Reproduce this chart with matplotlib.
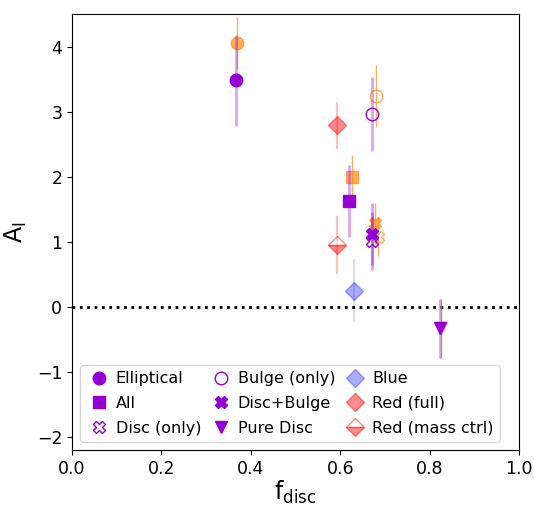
import numpy as np
import matplotlib
matplotlib.use('Agg')
import matplotlib.pyplot as plt

# muestras morfologicas: (nombre, marcador, relleno)
nombres = ['Elliptical', 'All', 'Disc (only)', 'Bulge (only)', 'Disc+Bulge', 'Pure Disc']
marcadores = ['o', 's', 'X', 'o', 'X', 'v']
rellenos = [True, True, False, False, True, True]

# serie morada
fdisc_a = [0.367, 0.620, 0.671, 0.671, 0.672, 0.823]
A_a = [3.48, 1.63, 1.01, 2.97, 1.12, -0.33]
err_a = [0.70, 0.55, 0.45, 0.57, 0.48, 0.45]

# serie naranja
fdisc_b = [0.369, 0.626, 0.685, 0.680, 0.678, 0.825]
A_b = [4.05, 1.99, 1.08, 3.24, 1.29, -0.33]
err_b = [0.40, 0.35, 0.30, 0.48, 0.30, 0.45]

# muestras de color
col_nombres = ['Blue', 'Red (full)', 'Red (mass ctrl)']
col_fdisc = [0.630, 0.592, 0.592]
col_A = [0.25, 2.79, 0.95]
col_err = [0.48, 0.36, 0.44]

morado = 'darkviolet'
naranja = (1.0, 0.55, 0.1)

plt.figure(figsize=(5.34, 5.05), dpi=100)
ax = plt.axes([0.135, 0.109, 0.837, 0.863])

handles = {}
for i in range(len(nombres)):
	fc = naranja if rellenos[i] else 'none'
	ax.errorbar(fdisc_b[i], A_b[i], yerr=err_b[i], fmt=marcadores[i], color=naranja,
		mfc=fc, mec=naranja, ms=9, alpha=0.7, elinewidth=1, zorder=2)
	fc = morado if rellenos[i] else 'none'
	ax.errorbar(fdisc_a[i], A_a[i], yerr=err_a[i], fmt='none', ecolor=morado,
		elinewidth=2, alpha=0.35, zorder=3)
	h, = ax.plot(fdisc_a[i], A_a[i], marcadores[i], color=morado, mfc=fc,
		mec=morado, ms=9, zorder=4)
	handles[nombres[i]] = h

# blue
ax.errorbar(col_fdisc[0], col_A[0], yerr=col_err[0], fmt='none', ecolor='blue',
	elinewidth=1.5, alpha=0.15)
handles['Blue'], = ax.plot(col_fdisc[0], col_A[0], 'D', color='blue', ms=9, alpha=0.33)
# red full
ax.errorbar(col_fdisc[1], col_A[1], yerr=col_err[1], fmt='none', ecolor='red',
	elinewidth=1.5, alpha=0.25)
handles['Red (full)'], = ax.plot(col_fdisc[1], col_A[1], 'D', color='red', ms=9, alpha=0.45)
# red mass ctrl
ax.errorbar(col_fdisc[2], col_A[2], yerr=col_err[2], fmt='none', ecolor='red',
	elinewidth=1.5, alpha=0.25)
handles['Red (mass ctrl)'], = ax.plot(col_fdisc[2], col_A[2], 'D', color='red', ms=9,
	alpha=0.45, fillstyle='bottom', mfc='red', mfcalt='white')

ax.axhline(0, color='black', linestyle=':', linewidth=2, zorder=1)

orden = ['Elliptical', 'All', 'Disc (only)', 'Bulge (only)', 'Disc+Bulge', 'Pure Disc',
	'Blue', 'Red (full)', 'Red (mass ctrl)']
ax.legend([handles[n] for n in orden], orden, ncol=3, loc='lower center',
	bbox_to_anchor=(0.488, 0.0), fontsize=11.5, handletextpad=0.3, columnspacing=0.5,
	handlelength=1.5, labelspacing=0.6, borderaxespad=0.5)

ax.set_xlim(0, 1)
ax.set_ylim(-2.2, 4.5)
ax.set_xlabel(r'f$_\mathrm{disc}$', fontsize=17, labelpad=1)
ax.set_ylabel(r'A$_\mathrm{I}$', fontsize=17, labelpad=6)
ax.tick_params(labelsize=12.5)
plt.savefig('out.png', dpi=100)
